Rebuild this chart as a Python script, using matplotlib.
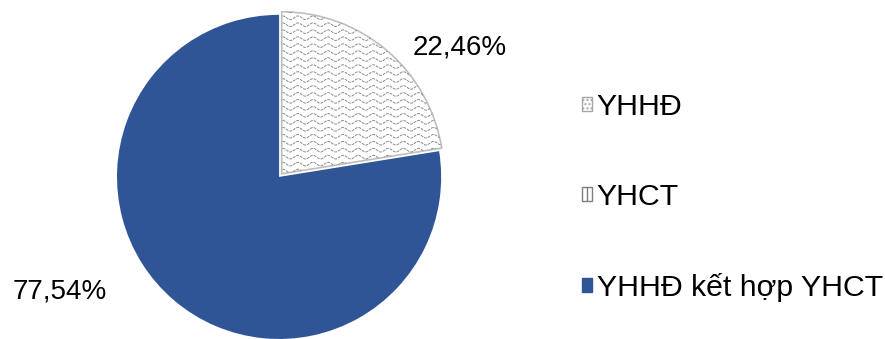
import numpy as np
import matplotlib.pyplot as plt
from matplotlib.patches import Patch
from matplotlib.collections import LineCollection

plt.rcParams['font.family'] = ['Liberation Sans', 'DejaVu Sans']

# dữ liệu
labels = ['YHHĐ', 'YHCT', 'YHHĐ kết hợp YHCT']
values = [22.46, 0.0, 77.54]
pct_text = ['22,46%', '', '77,54%']

blue = '#2f5597'

fig = plt.figure(figsize=(8.85, 3.39), dpi=100)
# truc tron: tam (279,177) px, ban kinh 162 px, gioi han +-1.2
ax = fig.add_axes([0.0956, -0.0956, 0.4395, 1.1475])

wedges, _ = ax.pie(values, startangle=90, counterclock=False,
                   explode=[0.025, 0, 0], colors=['white', 'white', blue],
                   wedgeprops=dict(linewidth=0))
wedges[0].set_edgecolor('#bfbfbf')
wedges[0].set_linewidth(1.2)
ax.set_xlim(-1.2, 1.2)
ax.set_ylim(-1.2, 1.2)
ax.set_aspect('equal')
ax.axis('off')

# hoa van song cho phan YHHĐ
xs = np.linspace(0, 1.15, 400)
segs = []
for y0 in np.arange(-0.05, 1.1, 0.043):
    segs.append(np.column_stack([xs, y0 + 0.011 * np.sin(xs / 0.093 * 2 * np.pi)]))
lc = LineCollection(segs, colors='#8c8c8c', linewidths=0.7, linestyles=(0, (3, 1)))
ax.add_collection(lc)
lc.set_clip_path(wedges[0])

# nhan phan tram
ax.text(1.117, 0.796, pct_text[0], ha='center', va='center', fontsize=20)
ax.text(-1.352, -0.71, pct_text[2], ha='center', va='center', fontsize=20)

# chu giai
handles = [Patch(facecolor='white', edgecolor='#a6a6a6', hatch='....'),
           Patch(facecolor='white', edgecolor='#7f7f7f', hatch='||'),
           Patch(facecolor=blue, edgecolor=blue)]
fig.legend(handles, labels, loc='center left', bbox_to_anchor=(0.6265, 0.418),
           frameon=False, fontsize=21.8, handlelength=0.33, handleheight=0.33,
           handletextpad=0.16, labelspacing=2.05)

fig.savefig('out.png', dpi=100)
